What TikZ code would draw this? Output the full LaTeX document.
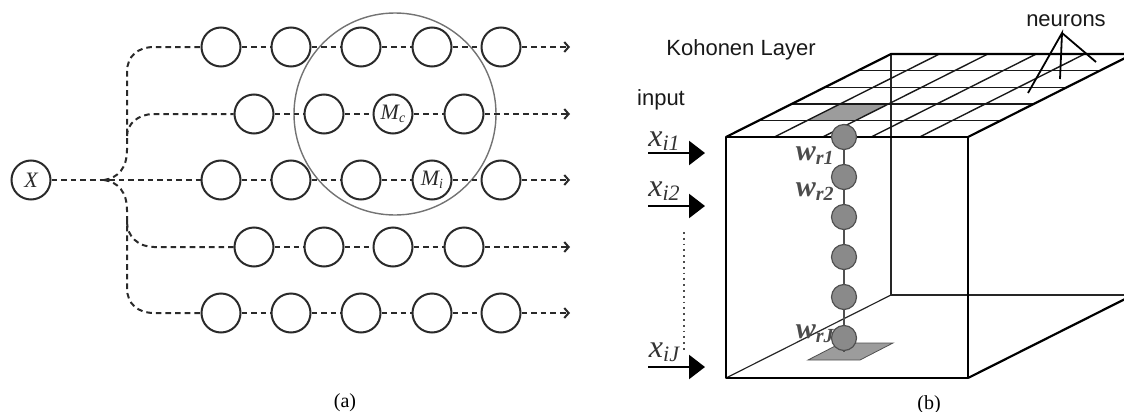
\documentclass[tikz,border=0pt]{standalone}
\usepackage{fontspec}
\setmainfont{Liberation Serif}
\newfontfamily\labelsans{Liberation Sans}
\usetikzlibrary{arrows.meta,calc}

% base letter with a lowered, smaller index
\newcommand{\lowidx}[3]{#1\raisebox{-0.3ex}{\fontsize{#3}{#3}\selectfont #2}}

\definecolor{ink}{HTML}{2A2A2A}
\definecolor{unitfill}{HTML}{8A8A8A}
\definecolor{unitedge}{HTML}{505050}
\definecolor{cellfill}{HTML}{9C9C9C}

\begin{document}
\begin{tikzpicture}[x=0.5pt,y=-0.5pt,
  unit/.style={circle, draw=ink, line width=1pt, minimum size=19.5pt, inner sep=0pt,
    font=\fontsize{11}{11}\selectfont\itshape, text=ink},
  link/.style={draw=ink, line width=1pt, dash pattern=on 2.8pt off 2pt},
  outlink/.style={link, -{Straight Barb[length=2.2pt,width=5pt,line width=1pt]}},
  zone/.style={circle, draw=black!55, line width=0.7pt, minimum size=101pt, inner sep=0pt},
  edge/.style={draw=black, line width=1.1pt, line join=round},
  hidden/.style={draw=black!85, line width=0.6pt},
  gridline/.style={draw=black!90, line width=0.7pt},
  weight/.style={circle, draw=unitedge, fill=unitfill, line width=0.6pt, minimum size=12.5pt, inner sep=0pt},
  inarrow/.style={draw=black, line width=1.2pt, -{Triangle[length=8pt,width=12pt]}},
  sanslabel/.style={font=\labelsans\fontsize{11}{11}\selectfont, text=black!90, inner sep=0pt},
  xlabel/.style={font=\fontsize{16}{16}\selectfont\itshape, text=black!80, inner sep=0pt},
  wlabel/.style={font=\fontsize{15}{15}\selectfont\itshape\bfseries, text=black!70, inner sep=0pt, anchor=east},
  caption/.style={font=\fontsize{10}{10}\selectfont, inner sep=0pt}
]
\path[use as bounding box] (0,0) rectangle (1124,412);
\clip (0,0) rectangle (1124,412);

% ---------------- (a) self-organising map ----------------
\node[unit] (X) at (31,180) {X};

% map units, five rows
\foreach \cx [count=\k] in {221,291,361,432,501} {
  \node[unit] (r1c\k) at (\cx,47) {};
}
\node[unit] (r2c1) at (254,114) {};
\node[unit] (r2c2) at (324,114) {};
\node[unit] (r2c3) at (393,114) {\lowidx{M}{c}{7}};
\node[unit] (r2c4) at (464,114) {};
\node[unit] (r3c1) at (221,180) {};
\node[unit] (r3c2) at (291,180) {};
\node[unit] (r3c3) at (361,180) {};
\node[unit] (r3c4) at (432,180) {\lowidx{M}{i}{7}};
\node[unit] (r3c5) at (501,180) {};
\foreach \cx [count=\k] in {254,324,393,464} {
  \node[unit] (r4c\k) at (\cx,247) {};
}
\foreach \cx [count=\k] in {221,291,361,432,501} {
  \node[unit] (r5c\k) at (\cx,313) {};
}

% neighbourhood of the winning unit
\node[zone] (hood) at (395,114) {};

% input fan-out
\coordinate (J) at (104,180);
\coordinate (b1) at (154,47);
\coordinate (b2) at (154,114);
\coordinate (b4) at (154,247);
\coordinate (b5) at (154,313);
\coordinate (t2) at (127,136);
\coordinate (t4) at (127,222);

\draw[link] (X) -- (r3c1) -- (r3c2) -- (r3c3) -- (r3c4) -- (r3c5);
\draw[link] (J) .. controls (118,178) and (127,168) .. (127,150) -- (127,72)
  .. controls (127,56) and (138,47) .. (b1) -- (r1c1);
\draw[link] (t2) .. controls (127,124) and (138,114) .. (b2) -- (r2c1);
\draw[link] (J) .. controls (118,182) and (127,192) .. (127,210) -- (127,288)
  .. controls (127,304) and (138,313) .. (b5) -- (r5c1);
\draw[link] (t4) .. controls (127,236) and (138,247) .. (b4) -- (r4c1);

% links along the rows
\draw[link] (r1c1) -- (r1c2) -- (r1c3) -- (r1c4) -- (r1c5);
\draw[link] (r2c1) -- (r2c2) -- (r2c3) -- (r2c4);
\draw[link] (r4c1) -- (r4c2) -- (r4c3) -- (r4c4);
\draw[link] (r5c1) -- (r5c2) -- (r5c3) -- (r5c4) -- (r5c5);

% outputs
\foreach \r/\last/\yy in {1/r1c5/47, 2/r2c4/114, 3/r3c5/180, 4/r4c4/247, 5/r5c5/313} {
  \coordinate (o\r) at (570,\yy);
  \draw[outlink] (\last) -- (o\r);
}

\node[caption] (capa) at (345,403) {(a)};

% ---------------- (b) Kohonen layer as a box ----------------
\coordinate (FTL) at (726,137);
\coordinate (FTR) at (968,137);
\coordinate (FBR) at (968,378);
\coordinate (FBL) at (726,378);
\coordinate (BTL) at (891,54);
\coordinate (BTR) at (1133,54);
\coordinate (BBR) at (1133,295);
\coordinate (BBL) at (891,295);

% winning cell on the top grid
\fill[cellfill] (807.4,120.4) -- (855.8,120.4) -- (888.8,103.8) -- (840.4,103.8) -- cycle;

% edges at the back
\draw[hidden] (BTL) -- (BBL) -- (BBR);
\draw[hidden] (FBL) -- (BBL);

% grid of neurons on the top face
\foreach \t in {1,2,3,4} {
  \draw[gridline] ($(FTL)!\t/5!(BTL)$) -- ($(FTR)!\t/5!(BTR)$);
  \draw[gridline] ($(FTL)!\t/5!(FTR)$) -- ($(BTL)!\t/5!(BTR)$);
}

% outer edges
\draw[edge] (FTL) rectangle (FBR);
\draw[edge] (FTL) -- (BTL) -- (BTR) -- (FTR);
\draw[edge] (FBR) -- (BBR);

% weight vector of one neuron
\fill[cellfill, draw=unitedge, line width=0.4pt] (808,360) -- (860,360) -- (893,343) -- (841,343) -- cycle;
\coordinate (pad) at (844,352);
\foreach \yy [count=\k] in {137,177,217,257,297,338} {
  \coordinate (w\k) at (844,\yy);
}
\draw[draw=unitedge, line width=0.8pt] (w1) -- (pad);
\foreach \k in {1,...,6} {
  \node[weight] (n\k) at (w\k) {};
}

\node[wlabel] (wr1) at (834,156) {\lowidx{w}{r1}{10}};
\node[wlabel] (wr2) at (834,192) {\lowidx{w}{r2}{10}};
\node[wlabel] (wrJ) at (834,334) {\lowidx{w}{rJ}{10}};

% inputs
\node[sanslabel] (layer) at (741,50) {Kohonen Layer};
\node[sanslabel] (neur) at (1066,21) {neurons};
\node[sanslabel] (inp) at (661,100) {input};

\coordinate (apex) at (1062,33);
\coordinate (p1) at (1028,93);
\coordinate (p2) at (1060,79);
\coordinate (p3) at (1096,62);
\draw[line width=0.9pt] (p1) -- (apex) -- (p2);
\draw[line width=0.9pt] (apex) -- (p3);

\foreach \k/\yy in {1/153, 2/206, 3/367} {
  \coordinate (is\k) at (648,\yy);
  \coordinate (ie\k) at (705,\yy);
  \draw[inarrow] (is\k) -- (ie\k);
}
\node[xlabel] (x1) at (664,141) {\lowidx{x}{i1}{11}};
\node[xlabel] (x2) at (664,191) {\lowidx{x}{i2}{11}};
\node[xlabel] (xJ) at (664,352) {\lowidx{x}{iJ}{11}};

\coordinate (dt) at (684,232);
\coordinate (db) at (684,350);
\draw[black!70, line width=0.9pt, dotted] (dt) -- (db);

\node[caption] (capb) at (929,405) {(b)};
\end{tikzpicture}
\end{document}
